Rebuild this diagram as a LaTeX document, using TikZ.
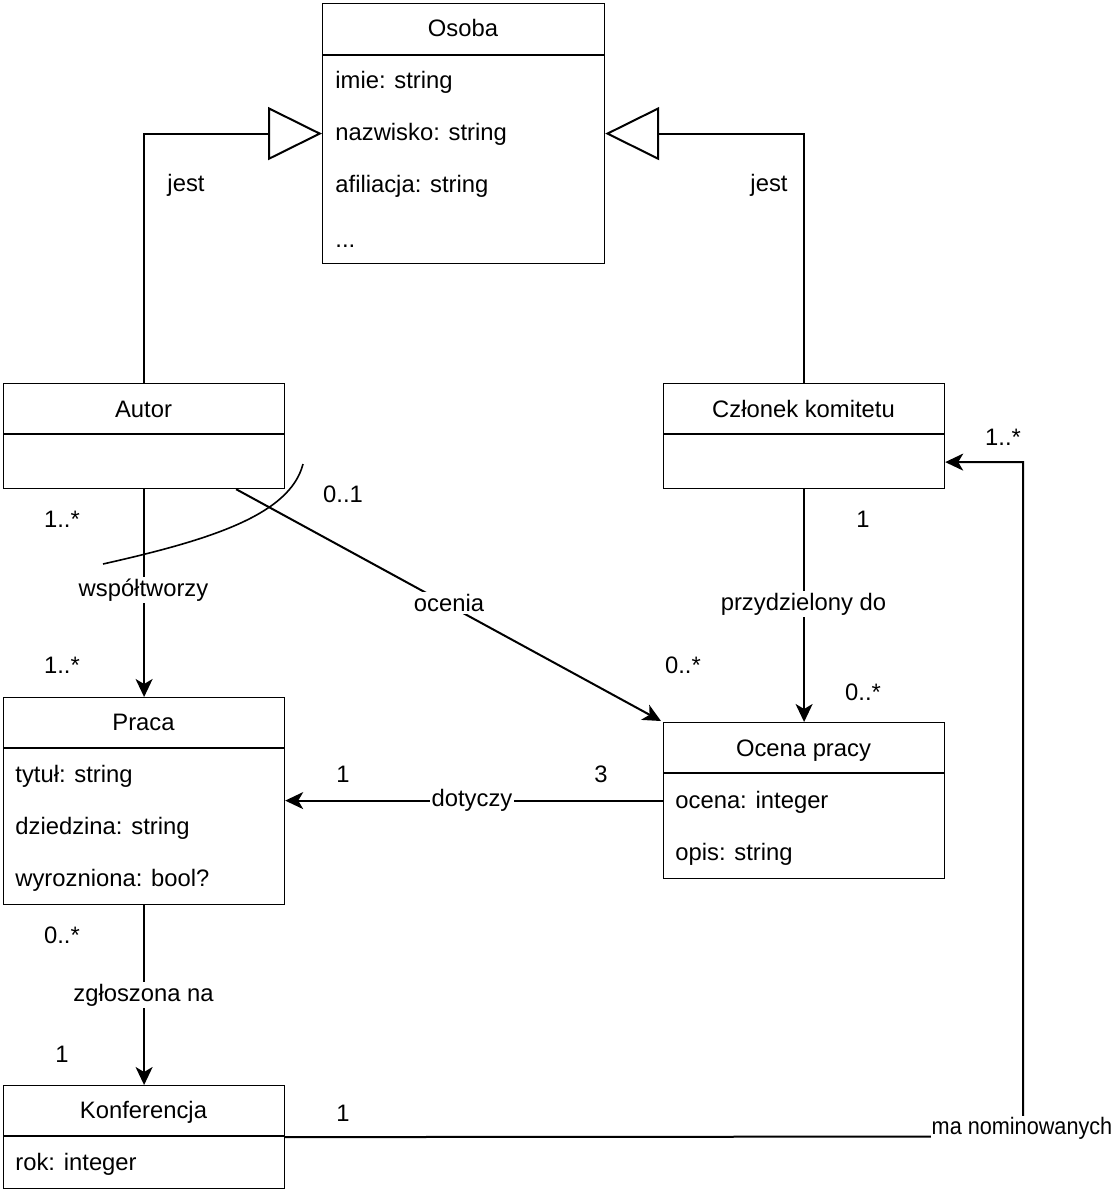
\documentclass[tikz,border=0pt]{standalone}
\usepackage{fontspec}
\setmainfont{Liberation Sans}
\usetikzlibrary{arrows.meta,calc}
\begin{document}
\begin{tikzpicture}[x=0.5pt,y=-0.5pt,
  font=\fontsize{11.9}{14}\selectfont,
  cls/.style={draw, line width=0.6pt, anchor=north west, minimum width=140.5pt, inner sep=0pt},
  sep/.style={line width=0.6pt},
  hdr/.style={anchor=base},
  attr/.style={anchor=base west, inner sep=0pt},
  conn/.style={line width=1pt, -{Stealth[length=9pt,width=8.5pt,inset=2.5pt]}},
  gen/.style={line width=1pt, -{Triangle[open,length=27pt,width=26.5pt,fill=white]}},
  lbl/.style={fill=white, inner sep=1pt},
  mult/.style={inner sep=0pt}]
\useasboundingbox (0,0) rectangle (1117,1198);

% classes
\node[cls, minimum width=141pt, minimum height=130pt] (osoba) at (322,3) {};
\draw[sep] (322,55) -- (604,55);
\node[hdr] (osobaH) at (463,37) {Osoba};
\node[attr] (o1) at (335,89) {imie: string};
\node[attr] (o2) at (335,141) {nazwisko: string};
\node[attr] (o3) at (335,193) {afiliacja: string};
\node[attr] (o4) at (335,248) {...};

\node[cls, minimum height=52.5pt] (autor) at (3,383) {};
\draw[sep] (3,434) -- (284,434);
\node[hdr] (autorH) at (143.5,417) {Autor};

\node[cls, minimum height=52.5pt] (czlonek) at (663,383) {};
\draw[sep] (663,434) -- (944,434);
\node[hdr] (czlonekH) at (803.5,417) {Członek komitetu};

\node[cls, minimum height=103.5pt] (praca) at (3,697) {};
\draw[sep] (3,748) -- (284,748);
\node[hdr] (pracaH) at (143.5,730) {Praca};
\node[attr] (p1) at (15,782) {tytuł: string};
\node[attr] (p2) at (15,834) {dziedzina: string};
\node[attr] (p3) at (15,886) {wyrozniona: bool?};

\node[cls, minimum height=78pt] (ocena) at (663,722) {};
\draw[sep] (663,773) -- (944,773);
\node[hdr] (ocenaH) at (803.5,756) {Ocena pracy};
\node[attr] (e1) at (675,808) {ocena: integer};
\node[attr] (e2) at (675,860) {opis: string};

\node[cls, minimum height=51.5pt] (konf) at (3,1085) {};
\draw[sep] (3,1136) -- (284,1136);
\node[hdr] (konfH) at (143.5,1118) {Konferencja};
\node[attr] (k1) at (15,1170) {rok: integer};

% generalizations
\draw[gen] (autor.north) |- (osoba.west);
\draw[gen] (czlonek.north) |- (osoba.east);
\node (jest1) at (186,185) {jest};
\node (jest2) at (769,185) {jest};

% wspoltworzy
\draw[conn] (autor.south) -- (praca.north);
\node[lbl] (wsp) at (143.5,590) {współtworzy};
\node[mult] (m1) at (62,519) {1..*};
\node[mult] (m2) at (62,665) {1..*};
\draw[line width=0.8pt] (303,464) .. controls (290,515) and (210,540) .. (103,564);

% ocenia
\coordinate (aoc) at ($(autor.south)+(92,0)$);
\draw[conn] (aoc) -- ($(ocena.north west)+(-2,-1)$);
\node[lbl] (ocenia) at (449,603) {ocenia};
\node[mult] (m3) at (343,494) {0..1};
\node[mult] (m4) at (683,665) {0..*};

% przydzielony do
\draw[conn] (czlonek.south) -- (ocena.north);
\node[lbl] (przy) at (803.5,604) {przydzielony do};
\node[mult] (m5) at (863,519) {1};
\node[mult] (m6) at (863,692) {0..*};

% dotyczy
\draw[conn] (ocena.west) -- (ocena.west -| praca.east);
\node[lbl] (dot) at (472,800) {dotyczy};
\node[mult] (m7) at (343,774) {1};
\node[mult] (m8) at (601,774) {3};

% zgloszona na
\draw[conn] (praca.south) -- (konf.north);
\node[lbl] (zgl) at (143.5,995) {zgłoszona na};
\node[mult] (m9) at (62,935) {0..*};
\node[mult] (m10) at (62,1054) {1};

% ma nominowanych
\coordinate (ctarget) at ($(czlonek.east)+(0,26)$);
\coordinate (corner) at (1023,1136.5);
\draw[conn] (konf.east) -- (corner) |- (ctarget);
\node[lbl, inner sep=0.5pt] (nom) at (1022,1128) {\scalebox{0.91}[1]{ma nominowanych}};
\node[mult] (m11) at (343,1113) {1};
\node[mult] (m12) at (1003,437) {1..*};
\end{tikzpicture}
\end{document}
